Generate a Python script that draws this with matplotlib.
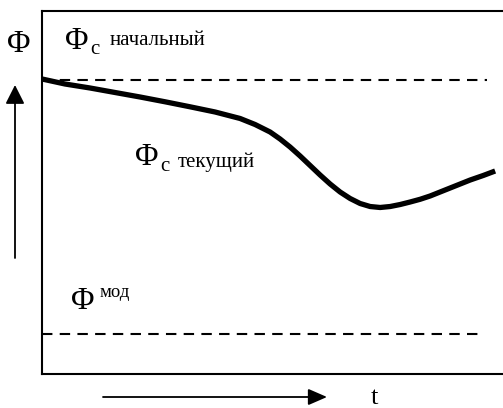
import matplotlib
matplotlib.use("Agg")
import matplotlib.pyplot as plt

# Data (arbitrary units: t from 0 to 100, Phi from 0 to 100)
t_cur = [0, 5.01, 10.46, 15.90, 21.35, 26.80, 32.24, 37.69, 43.14, 46.41, 49.67, 51.85,
         54.03, 56.21, 58.39, 60.57, 62.75, 64.92, 67.10, 69.28, 71.46, 73.64, 75.82,
         78.00, 80.17, 82.35, 84.53, 86.71, 88.89, 91.07, 93.25, 96.08, 98.69]
phi_cur = [81.27, 79.89, 78.79, 77.55, 76.31, 74.99, 73.61, 72.18, 70.39, 68.73, 66.67, 64.74,
           62.53, 60.06, 57.44, 54.82, 52.34, 50.14, 48.35, 46.97, 46.14, 45.87, 46.14,
           46.69, 47.38, 48.13, 49.04, 50.14, 51.24, 52.34, 53.44, 54.68, 55.92]
phi_init = 81.0
phi_mod = 11.0
t_init_end = 97.0
t_mod_end = 96.3

W, H = 503, 408
fig = plt.figure(figsize=(W / 100, H / 100), dpi=100)
ax = fig.add_axes([42 / W, (H - 374) / H, (W - 42) / W, (374 - 11) / H])
ax.set_xlim(0, 100.4)
ax.set_ylim(0, 100)
for s in ['left', 'bottom', 'top']:
    ax.spines[s].set_linewidth(1.5)
ax.spines['right'].set_visible(False)
ax.set_xticks([])
ax.set_yticks([])

ax.plot([0, t_init_end], [phi_init, phi_init], color='black', lw=1.5, dashes=(5, 3.5))
ax.plot([0, t_mod_end], [phi_mod, phi_mod], color='black', lw=1.5, dashes=(5, 3.5))
ax.plot(t_cur, phi_cur, color='black', lw=3.8, solid_capstyle='butt', solid_joinstyle='round')

serif = ['Liberation Serif', 'DejaVu Serif']

def px(x, y):
    return (x / W, 1 - y / H)

def txt(x, y, s, size, **kw):
    fig.text(*px(x, y), s, fontsize=size, family=serif, va='baseline', ha='left', **kw)

# Labels
txt(7, 52, 'Φ', 23)
txt(65, 49, 'Φ', 23)
txt(90, 54, 'c', 15)
txt(110, 45, 'начальный', 15)
txt(135, 165, 'Φ', 23)
txt(160, 171, 'c', 15)
txt(178, 167, 'текущий', 15)
txt(71, 309, 'Φ', 23)
txt(100, 297, 'мод', 13.5)
txt(371, 404, 't', 19)

# Arrows
fig.add_artist(matplotlib.patches.FancyArrowPatch(
    px(15, 258), px(15, 85), transform=fig.transFigure,
    arrowstyle='-|>,head_length=1.15,head_width=0.58', mutation_scale=10,
    color='black', lw=1.3, shrinkA=0, shrinkB=0))
fig.add_artist(matplotlib.patches.FancyArrowPatch(
    px(103, 397), px(327, 397), transform=fig.transFigure,
    arrowstyle='-|>,head_length=1.15,head_width=0.5', mutation_scale=10,
    color='black', lw=1.3, shrinkA=0, shrinkB=0))

fig.savefig('out.png', dpi=100)
